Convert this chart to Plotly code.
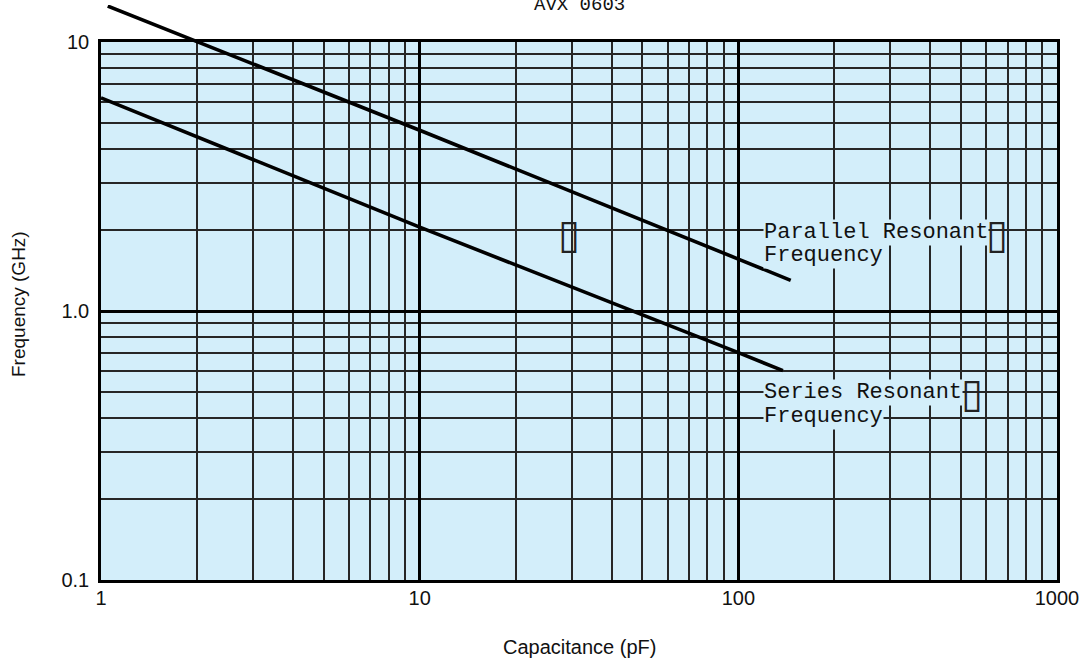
import plotly.graph_objects as go

# ---- data ----
cap_series = [1, 10, 100, 138]
freq_series = [6.2, 2.05, 0.70, 0.60]
cap_parallel = [1.05, 10, 100, 146]
freq_parallel = [13.6, 4.7, 1.56, 1.30]

x_tick_vals = [1, 10, 100, 1000]
x_tick_text = ["1", "10", "100", "1000"]
y_tick_vals = [0.1, 1, 10]
y_tick_text = ["0.1", "1.0", "10"]

title_text = "AVX 0603"
x_title = "Capacitance (pF)"
y_title = "Frequency (GHz)"
parallel_label = ["Parallel Resonant", "Frequency"]
series_label = ["Series Resonant", "Frequency"]
box_glyph = "\u25af"

# ---- style ----
W, H = 1086, 661
ML, MR, MT, MB = 101, 29, 5, 81
PLOT_TOP_PX = 42
paper_h = H - MT - MB
dom_top = (H - MB - PLOT_TOP_PX) / paper_h
bg_blue = "#d3eefa"
sans = "Liberation Sans, Arial, Helvetica, sans-serif"
mono = "Liberation Mono, Courier New, monospace"

fig = go.Figure()
line_style = dict(color="black", width=3.6)
fig.add_trace(go.Scatter(x=cap_series, y=freq_series, mode="lines",
                         line=line_style, xaxis="x", yaxis="y",
                         showlegend=False, hoverinfo="skip"))
fig.add_trace(go.Scatter(x=cap_parallel, y=freq_parallel, mode="lines",
                         line=line_style, xaxis="x2", yaxis="y2",
                         showlegend=False, hoverinfo="skip"))

axis_common = dict(
    type="log", showline=True, mirror=True, linewidth=2.5, linecolor="black",
    showgrid=True, gridcolor="black", gridwidth=2.6, ticks="",
    tickmode="array",
    tickfont=dict(family=sans, size=20, color="#111"),
    zeroline=False,
    minor=dict(dtick="D1", showgrid=True, gridcolor="#262626",
               gridwidth=1.6, ticks=""),
)

log_top = -1 + 2 * paper_h / (H - MB - PLOT_TOP_PX)

fig.update_layout(
    width=W, height=H,
    margin=dict(l=ML, r=MR, t=MT, b=MB, autoexpand=False),
    paper_bgcolor="white", plot_bgcolor="rgba(0,0,0,0)",
    xaxis=dict(axis_common, range=[0, 3], domain=[0, 1], anchor="y",
               tickvals=x_tick_vals, ticktext=x_tick_text,
               ticklabelstandoff=-2),
    yaxis=dict(axis_common, range=[-1, 1], domain=[0, dom_top], anchor="x",
               tickvals=y_tick_vals, ticktext=y_tick_text,
               ticklabelstandoff=5),
    xaxis2=dict(type="log", range=[0, 3], domain=[0, 1], anchor="y2",
                visible=False, showgrid=False),
    yaxis2=dict(type="log", range=[-1, log_top], domain=[0, 1], anchor="x2",
                visible=False, showgrid=False),
    shapes=[dict(type="rect", xref="x domain", yref="y domain",
                 x0=0, x1=1, y0=0, y1=1, fillcolor=bg_blue,
                 line=dict(width=0), layer="below")],
)


def py(px):
    return (H - MB - px) / paper_h


def px_x(px):
    return (px - ML) / (W - ML - MR)


ann = []
ann.append(dict(text=title_text, xref="paper", yref="paper", x=0.5, y=1.0,
                xanchor="center", yanchor="middle", showarrow=False,
                font=dict(family=mono, size=19, color="#111")))
ann.append(dict(text=x_title, xref="paper", yref="paper", x=0.5, y=py(647),
                xanchor="center", yanchor="middle", showarrow=False,
                font=dict(family=sans, size=20, color="#111")))
ann.append(dict(text=y_title, xref="paper", yref="paper", x=px_x(18),
                y=py(304), xanchor="center", yanchor="middle",
                textangle=-90, showarrow=False,
                font=dict(family=sans, size=19, color="#111")))
for lines, ys in ((parallel_label, (232, 255)), (series_label, (392, 416))):
    for t, yy in zip(lines, ys):
        ann.append(dict(text=t, xref="paper", yref="paper", x=px_x(763),
                        y=py(yy), xanchor="left", yanchor="middle",
                        showarrow=False, bgcolor=bg_blue, borderpad=0,
                        font=dict(family=mono, size=22, color="#111")))
# tofu-like boxes shown in the reference
for bx, by in ((569, 234), (997, 234), (972, 393)):
    ann.append(dict(text=box_glyph, xref="paper", yref="paper", x=px_x(bx),
                    y=py(by), xanchor="center", yanchor="middle",
                    showarrow=False,
                    font=dict(family="DejaVu Sans", size=40, color="#222")))
fig.update_layout(annotations=ann)

fig.write_html("out.html", config={"displayModeBar": False},
               post_script="document.body.style.margin='0';")
